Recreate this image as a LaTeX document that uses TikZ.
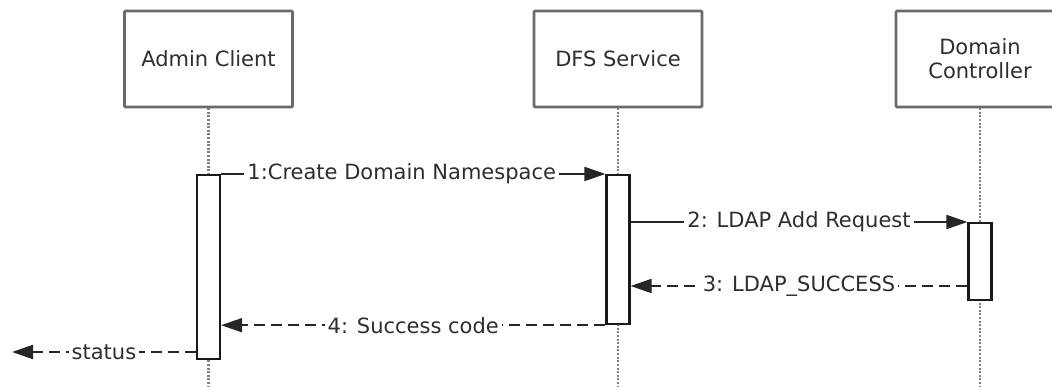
\documentclass[tikz,border=0pt]{standalone}
\usepackage{fontspec}
\setmainfont{DejaVu Sans}
\usetikzlibrary{arrows.meta, positioning}
\definecolor{boxgray}{HTML}{6A6A6A}
\definecolor{textgray}{HTML}{2E2E2E}
\tikzset{
    >={Triangle[length=21pt,width=14pt]}, % filled heads on the messages
    actor/.style={draw=boxgray, line width=2.6pt, rounded corners=1pt, fill=white,
        minimum width=168pt, minimum height=96pt, align=center, text=textgray}, % participant boxes
    lifeline/.style={draw=gray, line width=2.4pt, dash pattern=on 2pt off 1.6pt}, % dotted life lines
    activation/.style={draw=black!90, line width=2.2pt, fill=white, minimum width=23pt, inner sep=0pt, anchor=north},
    call/.style={->, line width=2pt, draw=black!85}, % synchronous message
    reply/.style={call, dash pattern=on 11pt off 6pt}, % return message
    msg/.style={fill=white, inner sep=3pt, text=textgray}, % label over the line
}

\begin{document}
\begin{tikzpicture}[x=1pt, y=-1pt, font=\fontsize{21}{24}\selectfont]
    \useasboundingbox (0,0) rectangle (1052,387);
    \clip (0,0) rectangle (1052,387);

    % participants
    \node[actor] (admin) at (208.5,59) {Admin Client};
    \node[actor] (dfs) at (618,59) {DFS Service};
    \node[actor] (dc) at (980,59) {Domain\\Controller};

    % life lines
    \coordinate (bottomline) at (0,390);
    \draw[lifeline] (admin.south) -- (admin.south |- bottomline);
    \draw[lifeline] (dfs.south) -- (dfs.south |- bottomline);
    \draw[lifeline] (dc.south) -- (dc.south |- bottomline);

    % activations
    \node[activation, minimum height=184pt] (actA) at (208.5,174) {};
    \node[activation, minimum height=149pt] (actD) at (618,174) {};
    \node[activation, minimum height=77pt] (actC) at (980,222) {};

    % messages
    \coordinate (okY) at (0,286);
    \coordinate (statusY) at (0,352);
    \coordinate (outside) at (12,352);
    \draw[call] (actA.north east) -- node[msg, pos=0.47]{1:Create Domain Namespace} (actD.north west);
    \draw[call] (actD.east |- actC.north) -- node[msg]{2: LDAP Add Request} (actC.north west);
    \draw[reply] (actC.west |- okY) -- node[msg]{3: LDAP\_SUCCESS} (actD.east |- okY);
    \draw[reply] (actD.south west) -- node[msg]{4: Success code} (actA.east |- actD.south);
    \draw[reply] (actA.west |- statusY) -- node[msg]{status} (outside);
\end{tikzpicture}
\end{document}
